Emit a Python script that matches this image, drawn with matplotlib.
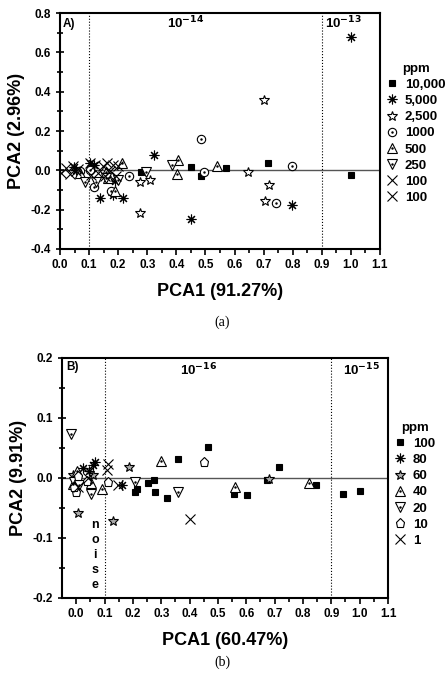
import numpy as np
import matplotlib.pyplot as plt
from matplotlib.legend_handler import HandlerTuple

plt.rcParams['font.family'] = ['Liberation Sans', 'DejaVu Sans']
plt.rcParams['font.weight'] = 'bold'

# panel A data (ppm series)
a_labels = ["10,000", "5,000", "2,500", "1000", "500", "250", "100", "100"]
a_10000_x = [0.28, 0.452, 0.484, 0.569, 0.716, 0.999]
a_10000_y = [-0.008, 0.017, -0.03, 0.012, 0.037, -0.025]
a_5000_x = [1.0, 0.323, 0.45, 0.796, 0.137, 0.182, 0.217, 0.188, 0.047, 0.054, 0.102, 0.117]
a_5000_y = [0.68, 0.08, -0.247, -0.178, -0.139, -0.124, -0.139, -0.053, 0.017, 0.0, 0.037, 0.029]
a_2500_x = [0.702, 0.276, 0.276, 0.311, 0.647, 0.718, 0.704]
a_2500_y = [0.36, -0.217, -0.061, -0.047, -0.008, -0.073, -0.158]
a_1000_x = [0.484, 0.494, 0.741, 0.796, 0.237, 0.116, 0.177, 0.102, 0.068]
a_1000_y = [0.161, -0.01, -0.166, 0.02, -0.027, -0.085, -0.107, 0.003, -0.005]
a_500_x = [0.406, 0.401, 0.54, 0.214, 0.188, 0.157, 0.165, 0.068]
a_500_y = [0.05, -0.019, 0.024, 0.037, -0.103, -0.01, -0.039, -0.014]
a_250_x = [0.385, 0.297, 0.085, 0.125, 0.159, 0.2]
a_250_y = [0.025, -0.008, -0.059, -0.059, -0.039, -0.047]
a_100a_x = [0.005, 0.022, 0.045, 0.056, 0.102, 0.119, 0.148, 0.16, 0.182, 0.2]
a_100a_y = [-0.013, 0.012, 0.024, -0.005, 0.038, 0.029, 0.02, 0.038, 0.029, 0.02]
a_100b_x = [0.035, 0.062, 0.108, 0.131, 0.154, 0.171, 0.194]
a_100b_y = [-0.02, 0.005, -0.022, -0.013, -0.03, -0.005, -0.03]

# panel B data
b_labels = ["100", "80", "60", "40", "20", "10", "1"]
b_100_x = [0.359, 0.465, 0.206, 0.214, 0.253, 0.276, 0.279, 0.32, 0.555, 0.602, 0.714, 0.673, 0.847, 0.941, 1.0]
b_100_y = [0.032, 0.051, -0.023, -0.019, -0.009, -0.004, -0.023, -0.033, -0.026, -0.029, 0.019, -0.003, -0.012, -0.026, -0.022]
b_80_x = [0.065, 0.059, 0.024, 0.045, 0.162]
b_80_y = [0.027, 0.021, 0.016, 0.012, -0.011]
b_60_x = [0.186, 0.006, 0.129, 0.68, -0.01, 0.06]
b_60_y = [0.019, -0.058, -0.071, -0.001, 0.005, 0.005]
b_40_x = [0.3, 0.561, 0.82, 0.092, 0.053, 0.002, -0.01]
b_40_y = [0.028, -0.015, -0.008, -0.019, -0.009, 0.012, -0.01]
b_20_x = [-0.02, 0.209, 0.359, 0.053, -0.006, 0.01]
b_20_y = [0.073, -0.006, -0.024, -0.027, -0.007, -0.012]
b_10_x = [0.451, 0.114, -0.002, 0.006, 0.038, -0.006]
b_10_y = [0.026, -0.007, -0.023, 0.004, -0.005, -0.015]
b_1_x = [0.4, 0.112, 0.108, 0.147, 0.006, 0.04]
b_1_y = [-0.069, 0.024, 0.013, -0.011, -0.015, 0.0]

W, H = 446, 676
fig = plt.figure(figsize=(W / 100, H / 100), dpi=100)

def style_axes(ax, xlim, ylim, yticks, yminor):
    ax.set_xlim(*xlim)
    ax.set_ylim(*ylim)
    ax.set_xticks(np.round(np.arange(0, 1.11, 0.1), 2))
    ax.set_xticks(np.arange(0.05, 1.1, 0.1), minor=True)
    ax.set_xticklabels(["%.1f" % v for v in np.arange(0, 1.11, 0.1)])
    ax.set_yticks(yticks)
    ax.set_yticks(yminor, minor=True)
    ax.set_yticklabels(["%.1f" % v for v in yticks])
    for s in ax.spines.values():
        s.set_linewidth(1.5)
    ax.tick_params(which='both', labelsize=8.5, width=1.2)
    ax.tick_params(axis='y', which='major', direction='inout', length=6)
    ax.tick_params(axis='y', which='minor', direction='inout', length=4)
    ax.tick_params(axis='x', which='major', direction='out', length=4)
    ax.tick_params(axis='x', which='minor', direction='out', length=3)
    ax.axhline(0, color='#555555', lw=1, zorder=1)
    ax.axvline(0.1, color='black', lw=0.8, ls=':', zorder=1)
    ax.axvline(0.9, color='black', lw=0.8, ls=':', zorder=1)

def dotted(ax, x, y, marker, ms, fc='white'):
    h1, = ax.plot(x, y, ls='none', marker=marker, ms=ms, mfc=fc, mec='black', mew=0.8, zorder=3)
    h2, = ax.plot(x, y, ls='none', marker='.', ms=1.5, color='black', zorder=4)
    return (h1, h2)

def plain(ax, x, y, marker, ms, fc='white', mew=0.8):
    h, = ax.plot(x, y, ls='none', marker=marker, ms=ms, mfc=fc, mec='black', mew=mew, zorder=3)
    return h

def add_legend(ax, handles, labels, anchor_x, anchor_y):
    leg = ax.legend(handles, labels, title="ppm", loc='upper left',
                    bbox_to_anchor=(anchor_x, anchor_y),
                    frameon=False, fontsize=9.5, handlelength=0.9, handletextpad=0.5,
                    labelspacing=0.3, borderaxespad=0, borderpad=0,
                    handler_map={tuple: HandlerTuple(ndivide=1, pad=0)})
    leg.get_title().set_fontweight('bold')
    leg.get_title().set_fontsize(9.5)
    leg._legend_box.align = 'center'
    return leg

ast = (8, 2, 0)

# ---------- panel A ----------
ax1 = fig.add_axes([60 / W, 1 - 249 / H, 320 / W, 236 / H])
style_axes(ax1, (0, 1.1), (-0.4, 0.8), np.round(np.arange(-0.4, 0.81, 0.2), 1),
           np.arange(-0.3, 0.8, 0.2))
ha = [
    plain(ax1, a_10000_x, a_10000_y, 's', 5, fc='black'),
    plain(ax1, a_5000_x, a_5000_y, ast, 7),
    plain(ax1, a_2500_x, a_2500_y, '*', 7.5),
    dotted(ax1, a_1000_x, a_1000_y, 'o', 6),
    dotted(ax1, a_500_x, a_500_y, '^', 6.5),
    dotted(ax1, a_250_x, a_250_y, 'v', 6.5),
    plain(ax1, a_100a_x, a_100a_y, 'x', 7.5),
    plain(ax1, a_100b_x, a_100b_y, 'x', 6.5),
]
ax1.text(0.01, 0.73, "A)", fontsize=8.5, fontweight='bold')
ax1.text(0.43, 0.72, r"10$^{\mathbf{-14}}$", fontsize=9.5, fontweight='bold', ha='center')
ax1.text(0.975, 0.72, r"10$^{\mathbf{-13}}$", fontsize=9.5, fontweight='bold', ha='center')
ax1.set_xlabel("PCA1 (91.27%)", fontsize=13, fontweight='bold', labelpad=8)
ax1.set_ylabel("PCA2 (2.96%)", fontsize=13, fontweight='bold', labelpad=4)
add_legend(ax1, ha, a_labels, 1.02, 0.79)

fig.text(222 / W, 1 - 322 / H, "(a)", family='Liberation Serif', fontweight='normal',
         fontsize=10, ha='center', va='center')

# ---------- panel B ----------
ax2 = fig.add_axes([62 / W, 1 - 598 / H, 326 / W, 240 / H])
style_axes(ax2, (-0.05, 1.1), (-0.2, 0.2), np.round(np.arange(-0.2, 0.21, 0.1), 1),
           np.arange(-0.15, 0.2, 0.1))
hb = [
    plain(ax2, b_100_x, b_100_y, 's', 5, fc='black'),
    plain(ax2, b_80_x, b_80_y, ast, 7),
    plain(ax2, b_60_x, b_60_y, '*', 7.5, fc='#aaaaaa'),
    dotted(ax2, b_40_x, b_40_y, '^', 6.5),
    dotted(ax2, b_20_x, b_20_y, 'v', 6.5),
    plain(ax2, b_10_x, b_10_y, 'p', 6.5),
    plain(ax2, b_1_x, b_1_y, 'x', 7),
]
ax2.text(-0.035, 0.18, "B)", fontsize=8.5, fontweight='bold')
ax2.text(0.43, 0.172, r"10$^{\mathbf{-16}}$", fontsize=9.5, fontweight='bold', ha='center')
ax2.text(1.005, 0.172, r"10$^{\mathbf{-15}}$", fontsize=9.5, fontweight='bold', ha='center')
ax2.text(0.067, -0.068, "n\no\ni\ns\ne", fontsize=9, fontweight='bold', ha='center', va='top',
         linespacing=1.35)
ax2.set_xlabel("PCA1 (60.47%)", fontsize=13, fontweight='bold', labelpad=8)
ax2.set_ylabel("PCA2 (9.91%)", fontsize=13, fontweight='bold', labelpad=4)
add_legend(ax2, hb, b_labels, 1.02, 0.735)

fig.text(222 / W, 1 - 662 / H, "(b)", family='Liberation Serif', fontweight='normal',
         fontsize=10, ha='center', va='center')

fig.savefig("out.png", dpi=100)
